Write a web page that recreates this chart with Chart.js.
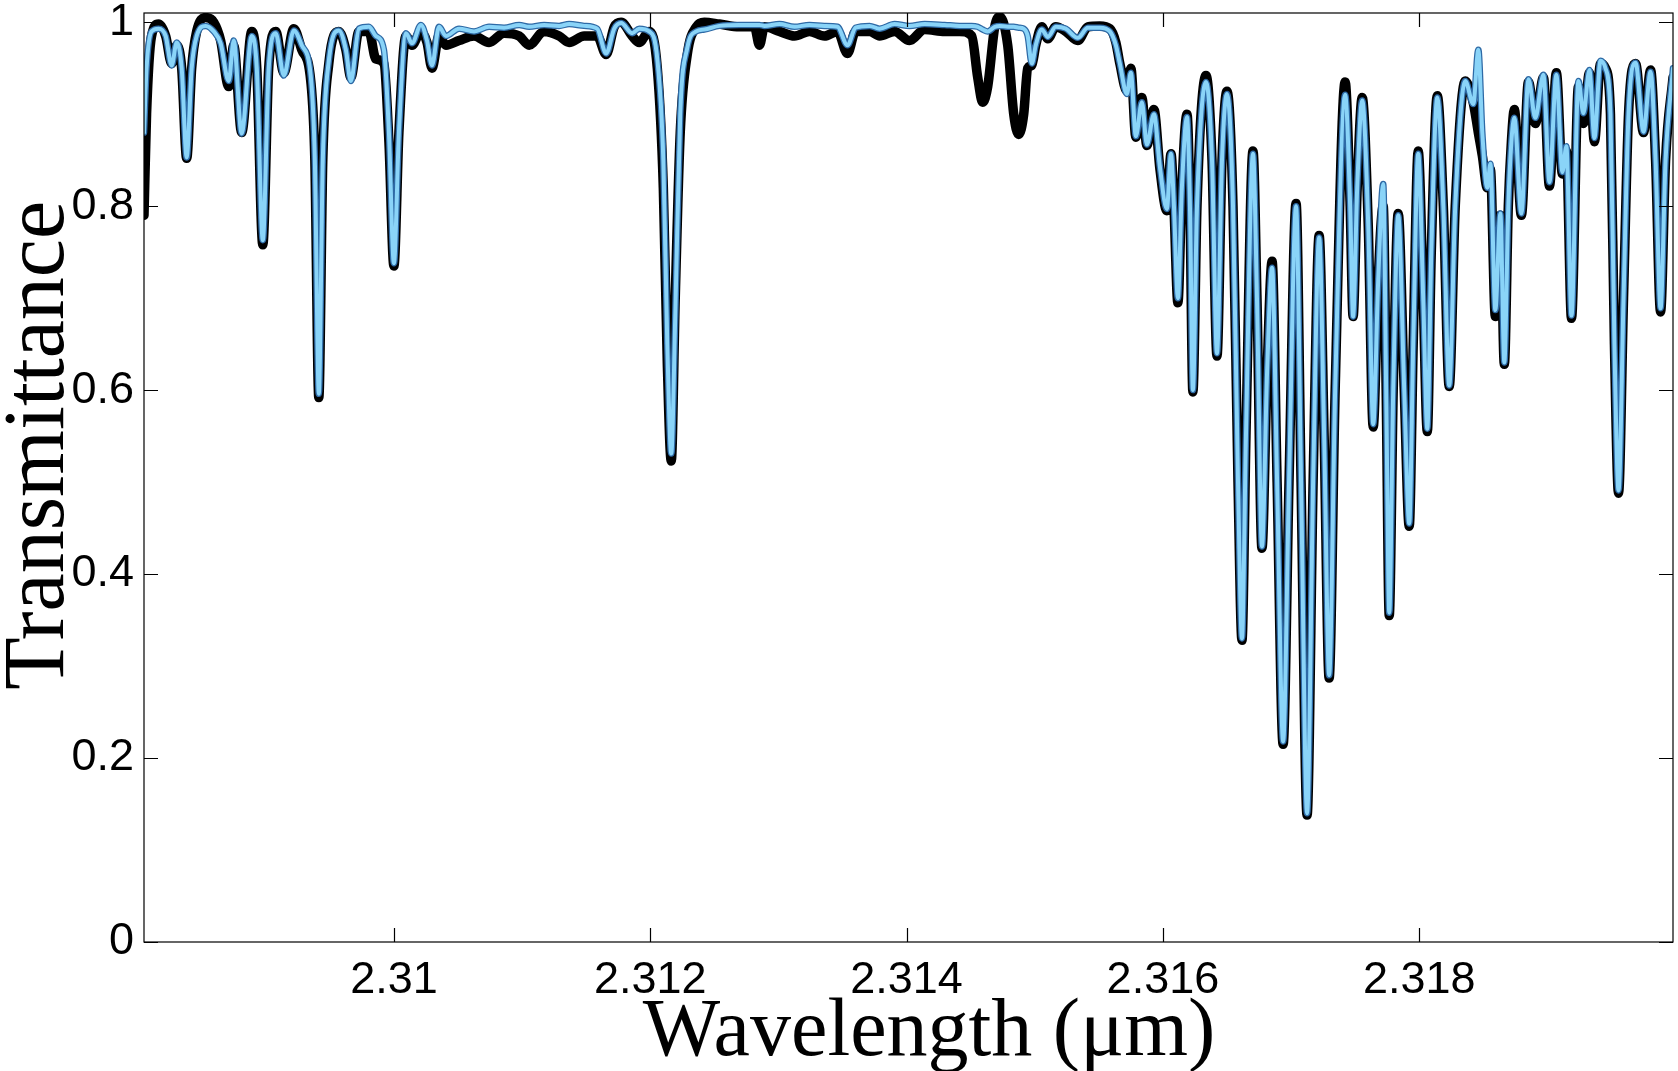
<!DOCTYPE html>
<html>
<head>
<meta charset="utf-8">
<script src="https://cdn.jsdelivr.net/npm/chart.js@4.4.1/dist/chart.umd.min.js"></script>
<style>
  html, body { margin: 0; padding: 0; background: #fff; }
  #wrap { width: 1678px; height: 1071px; }
</style>
</head>
<body>
<div id="wrap"><canvas id="c" width="1678" height="1071"></canvas></div>
<script>
// Wavelength grid (micrometres)
const wavelength = [
  2.30805, 2.30807, 2.308109, 2.308164, 2.308219, 2.308266, 2.308305, 2.308344, 2.308383, 2.308422,
  2.308461, 2.308531, 2.308594, 2.308648, 2.308711, 2.30875, 2.308812, 2.308891, 2.30893, 2.308977,
  2.309023, 2.309078, 2.309141, 2.309219, 2.309281, 2.309352, 2.309383, 2.309414, 2.309445, 2.309492,
  2.30957, 2.309625, 2.309664, 2.309727, 2.309805, 2.309859, 2.309922, 2.309961, 2.31, 2.310039,
  2.310094, 2.310141, 2.310211, 2.310258, 2.310297, 2.310352, 2.310406, 2.310508, 2.310625, 2.310742,
  2.310859, 2.310977, 2.311055, 2.311172, 2.311289, 2.311367, 2.311484, 2.311586, 2.311656, 2.311719,
  2.311773, 2.311859, 2.311914, 2.311992, 2.312055, 2.312102, 2.312133, 2.312164, 2.312195, 2.312234,
  2.312289, 2.312359, 2.312422, 2.312539, 2.312695, 2.312813, 2.312852, 2.312891, 2.313008, 2.313125,
  2.313242, 2.313359, 2.313461, 2.313539, 2.313602, 2.313711, 2.313789, 2.313906, 2.314023, 2.314141,
  2.314297, 2.314414, 2.314508, 2.314555, 2.314594, 2.314633, 2.314688, 2.314727, 2.314789, 2.314836,
  2.314875, 2.314914, 2.314945, 2.314977, 2.315008, 2.315055, 2.315102, 2.315164, 2.315242, 2.315336,
  2.315414, 2.315508, 2.315586, 2.315633, 2.315664, 2.315719, 2.31575, 2.315789, 2.315836, 2.315875,
  2.31593, 2.315977, 2.316031, 2.316063, 2.316086, 2.316117, 2.316148, 2.316188, 2.316211, 2.316234,
  2.316266, 2.316336, 2.316383, 2.316422, 2.316461, 2.3165, 2.316547, 2.316586, 2.316617, 2.316648,
  2.316703, 2.316734, 2.316773, 2.316813, 2.316852, 2.316891, 2.316938, 2.316984, 2.317039, 2.317078,
  2.317125, 2.317172, 2.317219, 2.317258, 2.317297, 2.317344, 2.317422, 2.317461, 2.317484, 2.317516,
  2.317555, 2.317602, 2.317641, 2.31768, 2.317719, 2.317742, 2.317766, 2.317797, 2.317836, 2.317883,
  2.317922, 2.317953, 2.317992, 2.318031, 2.318063, 2.318094, 2.318141, 2.318188, 2.318234, 2.318281,
  2.318359, 2.318422, 2.318461, 2.318492, 2.318531, 2.318555, 2.318594, 2.318633, 2.318664, 2.318695,
  2.318719, 2.318742, 2.318797, 2.318852, 2.318906, 2.318969, 2.319016, 2.31907, 2.319117, 2.319148,
  2.319188, 2.319242, 2.319281, 2.319328, 2.319367, 2.319414, 2.319453, 2.319492, 2.319523, 2.319555,
  2.319594, 2.319633, 2.319688, 2.31975, 2.319805, 2.319844, 2.319883, 2.319922, 2.31998
];

// Observed transmittance (black)
const observed = [
  0.79, 0.90, 0.985, 0.998, 0.985, 0.955, 0.975, 0.95, 0.852, 0.95,
  0.99, 1.005, 1.0, 0.98, 0.93, 0.975, 0.88, 0.99, 0.95, 0.758,
  0.95, 0.99, 0.945, 0.993, 0.97, 0.935, 0.85, 0.592, 0.85, 0.955,
  0.99, 0.97, 0.94, 0.99, 0.99, 0.96, 0.955, 0.87, 0.735, 0.88,
  0.985, 0.975, 0.99, 0.978, 0.95, 0.985, 0.975, 0.98, 0.985, 0.978,
  0.988, 0.985, 0.975, 0.99, 0.985, 0.978, 0.985, 0.985, 0.965, 0.995,
  1.0, 0.985, 0.978, 0.99, 0.95, 0.82, 0.63, 0.523, 0.70, 0.88,
  0.965, 0.995, 1.0, 0.998, 0.995, 0.995, 0.975, 0.995, 0.99, 0.985,
  0.99, 0.985, 0.99, 0.966, 0.99, 0.99, 0.985, 0.99, 0.98, 0.992,
  0.99, 0.99, 0.985, 0.94, 0.913, 0.93, 0.995, 1.006, 0.975, 0.90,
  0.878, 0.90, 0.95, 0.953, 0.975, 0.995, 0.982, 0.995, 0.99, 0.98,
  0.995, 0.996, 0.993, 0.978, 0.955, 0.925, 0.95, 0.875, 0.918, 0.866,
  0.905, 0.84, 0.795, 0.857, 0.80, 0.695, 0.82, 0.90, 0.80, 0.598,
  0.80, 0.942, 0.85, 0.637, 0.85, 0.925, 0.80, 0.50, 0.328, 0.55,
  0.86, 0.70, 0.428, 0.62, 0.74, 0.50, 0.215, 0.50, 0.803, 0.50,
  0.138, 0.50, 0.768, 0.55, 0.287, 0.60, 0.935, 0.80, 0.68, 0.82,
  0.918, 0.78, 0.56, 0.72, 0.80, 0.60, 0.355, 0.60, 0.792, 0.60,
  0.452, 0.65, 0.86, 0.70, 0.555, 0.75, 0.92, 0.80, 0.604, 0.80,
  0.936, 0.912, 0.88, 0.855, 0.82, 0.84, 0.68, 0.79, 0.628, 0.80,
  0.87, 0.905, 0.79, 0.935, 0.89, 0.94, 0.822, 0.945, 0.835, 0.86,
  0.678, 0.93, 0.89, 0.945, 0.87, 0.955, 0.95, 0.90, 0.65, 0.488,
  0.70, 0.90, 0.955, 0.88, 0.948, 0.85, 0.685, 0.85, 0.94
];

// Model transmittance (blue)
const model = [
  0.88, 0.95, 0.99, 0.993, 0.985, 0.953, 0.978, 0.95, 0.853, 0.95,
  0.985, 0.996, 0.99, 0.977, 0.936, 0.98, 0.879, 0.985, 0.95, 0.763,
  0.95, 0.988, 0.942, 0.991, 0.975, 0.94, 0.85, 0.596, 0.85, 0.958,
  0.991, 0.97, 0.936, 0.993, 0.995, 0.985, 0.97, 0.88, 0.738, 0.88,
  0.988, 0.977, 0.997, 0.98, 0.953, 0.995, 0.985, 0.993, 0.99, 0.995,
  0.994, 0.997, 0.995, 0.997, 0.996, 0.998, 0.996, 0.993, 0.966, 0.993,
  0.999, 0.988, 0.993, 0.99, 0.96, 0.85, 0.65, 0.531, 0.68, 0.90,
  0.972, 0.99, 0.992, 0.996, 0.997, 0.997, 0.997, 0.996, 0.998, 0.995,
  0.997, 0.996, 0.995, 0.975, 0.994, 0.996, 0.993, 0.998, 0.996, 0.998,
  0.997, 0.996, 0.996, 0.995, 0.992, 0.99, 0.995, 0.996, 0.995, 0.995,
  0.994, 0.993, 0.985, 0.955, 0.975, 0.992, 0.984, 0.995, 0.993, 0.983,
  0.994, 0.994, 0.99, 0.975, 0.955, 0.922, 0.945, 0.876, 0.913, 0.867,
  0.90, 0.842, 0.797, 0.857, 0.80, 0.70, 0.82, 0.897, 0.80, 0.60,
  0.80, 0.935, 0.85, 0.64, 0.85, 0.922, 0.80, 0.50, 0.33, 0.55,
  0.857, 0.70, 0.43, 0.62, 0.733, 0.50, 0.218, 0.50, 0.80, 0.50,
  0.14, 0.50, 0.766, 0.55, 0.29, 0.60, 0.921, 0.80, 0.68, 0.82,
  0.915, 0.78, 0.563, 0.72, 0.824, 0.60, 0.358, 0.60, 0.79, 0.60,
  0.455, 0.65, 0.857, 0.70, 0.558, 0.75, 0.918, 0.80, 0.605, 0.80,
  0.936, 0.911, 0.97, 0.88, 0.82, 0.846, 0.687, 0.792, 0.63, 0.80,
  0.87, 0.896, 0.792, 0.938, 0.896, 0.943, 0.826, 0.943, 0.837, 0.865,
  0.681, 0.936, 0.901, 0.948, 0.874, 0.958, 0.95, 0.90, 0.65, 0.491,
  0.70, 0.90, 0.956, 0.881, 0.946, 0.85, 0.689, 0.85, 0.95
];

// Axis ticks
const xTicks = [2.31, 2.312, 2.314, 2.316, 2.318];
const xTickLabels = ['2.31', '2.312', '2.314', '2.316', '2.318'];
const yTicks = [0, 0.2, 0.4, 0.6, 0.8, 1];
const yTickLabels = ['0', '0.2', '0.4', '0.6', '0.8', '1'];

const xMin = 2.30805, xMax = 2.31998, yMin = 0, yMax = 1.01;

const obsPts = wavelength.map((w, i) => ({ x: w, y: observed[i] }));
const modPts = wavelength.map((w, i) => ({ x: w, y: model[i] }));

const framePlugin = {
  id: 'frame',
  afterDatasetsDraw(chart) {
    const { ctx, chartArea: { left, right, top, bottom }, scales: { x, y } } = chart;
    ctx.save();
    ctx.strokeStyle = '#000';
    ctx.lineWidth = 1.2;
    ctx.strokeRect(left, top, right - left, bottom - top);
    const L = 14;
    ctx.beginPath();
    x.ticks.forEach(t => {
      const px = Math.round(x.getPixelForValue(t.value)) + 0.5;
      ctx.moveTo(px, bottom); ctx.lineTo(px, bottom - L);
      ctx.moveTo(px, top); ctx.lineTo(px, top + L);
    });
    y.ticks.forEach(t => {
      const py = Math.round(y.getPixelForValue(t.value)) + 0.5;
      ctx.moveTo(left, py); ctx.lineTo(left + L, py);
      ctx.moveTo(right, py); ctx.lineTo(right - L, py);
    });
    ctx.stroke();
    ctx.restore();
  }
};

const common = {
  pointRadius: 0,
  pointHoverRadius: 0,
  fill: false,
  cubicInterpolationMode: 'monotone',
  tension: 0.4,
  borderJoinStyle: 'round',
  borderCapStyle: 'round',
  clip: 0
};

new Chart(document.getElementById('c'), {
  type: 'line',
  data: {
    datasets: [
      Object.assign({ label: 'Model (core)', data: modPts, borderColor: '#8ad4f8', borderWidth: 4, order: 1 }, common),
      Object.assign({ label: 'Model', data: modPts, borderColor: '#2e6aa6', borderWidth: 6.5, order: 2 }, common),
      Object.assign({ label: 'Observed', data: obsPts, borderColor: '#000000', borderWidth: 9.5, order: 3 }, common)
    ]
  },
  options: {
    responsive: false,
    animation: false,
    events: [],
    layout: { padding: { left: 0, right: 5, top: 13, bottom: 0 } },
    plugins: { legend: { display: false }, tooltip: { enabled: false } },
    scales: {
      x: {
        type: 'linear',
        min: xMin, max: xMax,
        afterBuildTicks: s => { s.ticks = xTicks.map(v => ({ value: v })); },
        afterFit: s => { s.height = 129; s.paddingLeft = 0; s.paddingRight = 0; },
        grid: { display: false, drawTicks: false },
        border: { display: false },
        ticks: {
          color: '#000',
          padding: 12,
          maxRotation: 0,
          autoSkip: false,
          font: { family: 'Liberation Sans', size: 45 },
          callback: (v) => { const i = xTicks.indexOf(v); return i >= 0 ? xTickLabels[i] : ''; }
        },
        title: {
          display: true,
          text: '  Wavelength (μm)',
          color: '#000',
          font: { family: 'Liberation Serif', size: 82, lineHeight: 0.92 },
          padding: { top: 0, bottom: 0 }
        }
      },
      y: {
        type: 'linear',
        min: yMin, max: yMax,
        afterBuildTicks: s => { s.ticks = yTicks.map(v => ({ value: v })); },
        afterFit: s => { s.width = 144; s.paddingTop = 0; s.paddingBottom = 0; },
        grid: { display: false, drawTicks: false },
        border: { display: false },
        ticks: {
          color: '#000',
          padding: 10,
          autoSkip: false,
          font: { family: 'Liberation Sans', size: 45 },
          callback: (v) => { const i = yTicks.indexOf(v); return i >= 0 ? yTickLabels[i] : ''; }
        },
        title: {
          display: true,
          text: '   Transmittance',
          color: '#000',
          font: { family: 'Liberation Serif', size: 86, lineHeight: 0.95 },
          padding: { top: 0, bottom: 0 }
        }
      }
    }
  },
  plugins: [framePlugin]
});
</script>
</body>
</html>
